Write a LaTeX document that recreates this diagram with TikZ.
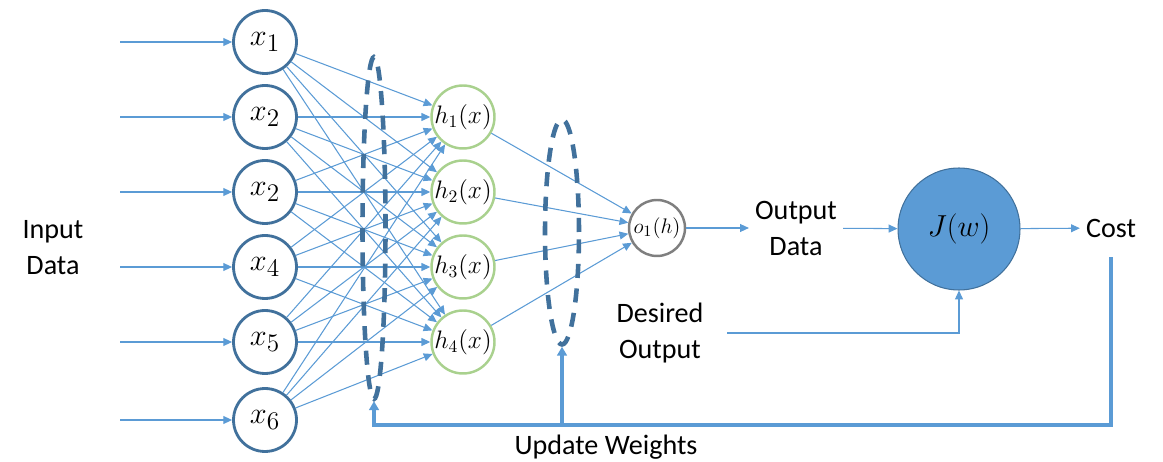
\documentclass[tikz,border=0pt]{standalone}
\usepackage{fontspec}
\setmainfont{Carlito}
\usetikzlibrary{arrows.meta,shapes.geometric}
\definecolor{wire}{HTML}{5B9BD5}
\definecolor{navy}{HTML}{41719C}
\definecolor{leaf}{HTML}{A9D18E}
\definecolor{ash}{HTML}{7F7F7F}
\tikzset{
  wire/.style={draw=wire, line width=0.6pt, -{Triangle[length=5pt,width=4.5pt]}},
  fb/.style={draw=wire, line width=2.2pt, -{Triangle[length=5pt,width=5.5pt]}},
  inp/.style={circle, draw=navy, line width=1.6pt, minimum size=1.26cm, inner sep=-6pt, font=\fontsize{19}{22}\selectfont},
  hid/.style={circle, draw=leaf, line width=1.4pt, minimum size=1.26cm, inner sep=-6pt, font=\fontsize{14.5}{16}\selectfont},
  ring/.style={ellipse, draw=navy, line width=2.6pt, dash pattern=on 8pt off 6pt, inner sep=0pt},
  txt/.style={align=center}
}
\begin{document}
\begin{tikzpicture}[x=0.02cm, y=-0.02cm, font=\fontsize{16}{20.5}\selectfont]
\useasboundingbox (0,0) rectangle (1163,462);
% input layer
\foreach \i/\y/\lab in {1/42/x_1, 2/117/x_2, 3/192/x_2, 4/267/x_4, 5/342/x_5, 6/420/x_6} {
    \node[inp] (x\i) at (265,\y) {$\lab$};
    \coordinate (in\i) at (120,\y);
    \draw[wire] (in\i) -- (x\i);
}
\node[txt] (indata) at (53,248) {Input\\Data};
% hidden layer
\foreach \j/\y in {1/117, 2/192, 3/267, 4/342}
    \node[hid] (h\j) at (463,\y) {$h_\j(x)$};
\foreach \i in {1,...,6}
    \foreach \j in {1,...,4}
        \draw[wire] (x\i) -- (h\j);
% output unit
\node[circle, draw=ash, line width=1.4pt, minimum size=1.12cm, inner sep=-6pt,
      font=\fontsize{13}{15}\selectfont] (o1) at (657,228) {$o_1(h)$};
\foreach \j in {1,...,4}
    \draw[wire] (h\j) -- (o1);
% dashed weight groups
\node[ring, minimum width=0.46cm, minimum height=6.84cm] (ring1) at (374,228) {};
\node[ring, minimum width=0.68cm, minimum height=4.5cm] (ring2) at (562,232) {};
% cost part
\node[txt] (outdata) at (796,228) {Output\\Data};
\node[circle, fill=wire, draw=navy, line width=0.6pt, minimum size=2.44cm,
      font=\fontsize{19}{22}\selectfont] (J) at (959,229) {$J(w)$};
\node (cost) at (1111,228) {Cost};
\node[txt] (want) at (660,333) {Desired\\Output};
\draw[wire] (o1) -- (outdata);
\draw[wire] (outdata) -- (J);
\draw[wire] (J) -- (cost);
\draw[wire] ([xshift=10] want.east) -| (J.south);
% feedback
\coordinate (base) at (562,425);
\draw[fb, -] ([yshift=-8] cost.south) |- (base);
\draw[fb] (base) -| (ring1.south);
\draw[fb] (base) -- (ring2.south);
\node (update) at (606,447) {Update Weights};
\end{tikzpicture}
\end{document}
